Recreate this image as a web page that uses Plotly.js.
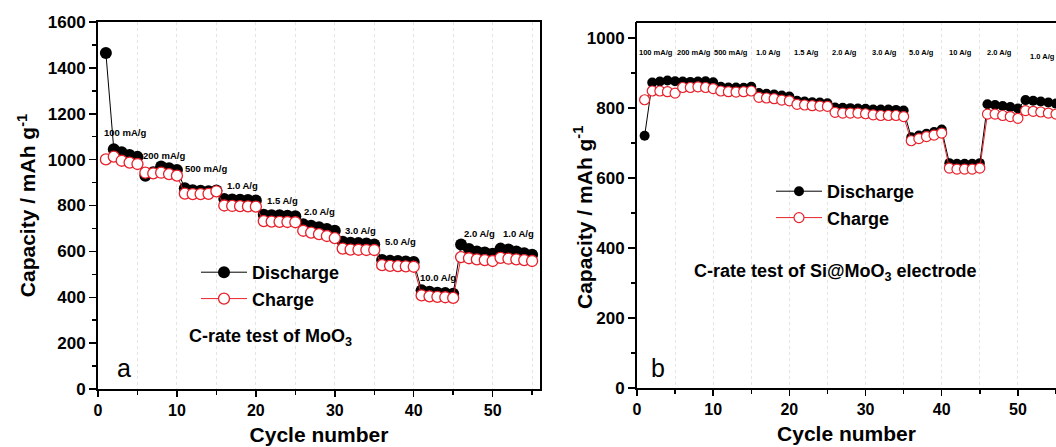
<!DOCTYPE html>
<html><head><meta charset="utf-8">
<script src="https://cdn.plot.ly/plotly-3.0.1.min.js"></script>
<style>html,body{margin:0;padding:0;background:#fff}#chart{width:1056px;height:447px}</style>
</head><body><div id="chart"></div>
<script>
const cycles = [1,2,3,4,5,6,7,8,9,10,11,12,13,14,15,16,17,18,19,20,21,22,23,24,25,26,27,28,29,30,31,32,33,34,35,36,37,38,39,40,41,42,43,44,45,46,47,48,49,50,51,52,53,54,55];

// Panel a: MoO3
const moDischarge = [1465, 1045,1032,1020,1012, 930,945,970,962,955, 875,866,864,862,865, 828,826,825,824,822,
  760,758,757,755,753, 718,712,705,698,690, 642,638,636,634,630, 562,559,558,556,554, 430,424,420,418,415,
  630,610,600,595,590, 612,608,600,592,585];
const moCharge = [1001, 1013,995,987,981, 943,940,943,937,930, 852,850,850,851,862, 800,798,797,796,795,
  732,730,729,728,727, 690,682,675,667,658, 612,608,607,606,606, 540,537,536,535,533, 408,404,402,400,397,
  575,570,565,562,558, 572,568,565,562,558];

// Panel b: Si@MoO3
const siDischarge = [720, 872,875,878,876, 875,874,875,876,873, 860,858,858,857,860, 842,840,838,835,832,
  820,818,816,815,813, 801,800,799,798,797, 795,795,795,794,792, 716,721,726,731,738, 642,640,640,640,642,
  810,808,805,802,798, 822,820,818,815,812];
const siCharge = [823, 848,848,846,842, 858,858,860,858,855, 848,846,845,846,848, 830,828,826,822,820,
  810,808,806,805,804, 787,785,785,785,783, 780,778,778,778,775, 706,712,718,722,728, 628,625,625,625,628,
  782,782,778,775,770, 792,790,788,785,782];

const rateLabelsA = ["100 mA/g","200 mA/g","500 mA/g","1.0 A/g","1.5 A/g","2.0 A/g","3.0 A/g","5.0 A/g","10.0 A/g","2.0 A/g","1.0 A/g"];
const rateLabelsB = ["100 mA/g","200 mA/g","500 mA/g","1.0 A/g","1.5 A/g","2.0 A/g","3.0 A/g","5.0 A/g","10 A/g","2.0 A/g","1.0 A/g"];

const FONT = "Liberation Sans, Arial, sans-serif";
const RED = "#e8202a";

// label anchors (data coordinates)
const posA = [[0.5,1120],[5.4,1020],[10.8,963],[16.1,889],[21.1,824],[25.8,776],[31.0,693],[36.1,641],[40.6,484],[46.1,680],[51.0,680]];
const posB = [[2.5,958],[7.5,958],[12.3,958],[17.3,958],[22.3,958],[27.3,958],[32.5,958],[37.3,958],[42.5,958],[47.6,958],[53.2,946]];

const traces = [
  {x: cycles, y: moDischarge, name: "Discharge", mode: "lines+markers", xaxis: "x", yaxis: "y", legend: "legend",
   line: {color: "#000", width: 1}, marker: {symbol: "circle", size: 12, color: "#000"}},
  {x: cycles, y: moCharge, name: "Charge", mode: "lines+markers", xaxis: "x", yaxis: "y", legend: "legend",
   line: {color: RED, width: 1}, marker: {symbol: "circle", size: 11, color: "#fff", line: {color: RED, width: 1.3}}},
  {x: cycles, y: siDischarge, name: "Discharge", mode: "lines+markers", xaxis: "x2", yaxis: "y2", legend: "legend2",
   line: {color: "#000", width: 1}, marker: {symbol: "circle", size: 10, color: "#000"}},
  {x: cycles, y: siCharge, name: "Charge", mode: "lines+markers", xaxis: "x2", yaxis: "y2", legend: "legend2",
   line: {color: RED, width: 1}, marker: {symbol: "circle", size: 10, color: "#fff", line: {color: RED, width: 1.2}}}
];

const titleFont = {family: FONT, size: 21, weight: 700, color: "#000"};
function xax(domain, range, mirror) {
  return {domain: domain, range: range, showline: true, linecolor: "#000", linewidth: 2, mirror: mirror,
    ticks: "outside", ticklen: 6, tickwidth: 1.5, tickcolor: "#000", dtick: 10, tick0: 0,
    tickfont: {family: FONT, size: 16, weight: 700, color: "#000"},
    showgrid: true, gridcolor: "#e4e4e4", griddash: "dot", gridwidth: 1, zeroline: false,
    minor: {dtick: 5, ticks: "outside", ticklen: 4, tickcolor: "#000", showgrid: true, gridcolor: "#e4e4e4", griddash: "dot"},
    title: {text: "Cycle number", font: titleFont, standoff: 9},
    automargin: false, fixedrange: true};
}
function yax(domain, range, anchor, mirror, standoff, title) {
  return {domain: domain, range: range, anchor: anchor, showline: true, linecolor: "#000", linewidth: 2, mirror: mirror,
    ticks: "outside", ticklen: 7, tickwidth: 1.5, tickcolor: "#000", dtick: 200, tick0: 0,
    tickfont: {family: FONT, size: 17, weight: 700, color: "#000"},
    showgrid: false, zeroline: false,
    minor: {dtick: 100, ticks: "outside", ticklen: 4, tickcolor: "#000", showgrid: false},
    title: {text: title, font: titleFont, standoff: standoff},
    automargin: false, fixedrange: true};
}

const annotations = [];
rateLabelsA.forEach((t, i) => annotations.push({xref: "x", yref: "y", x: posA[i][0], y: posA[i][1], text: t,
  showarrow: false, xanchor: "left", yanchor: "middle", font: {family: FONT, size: 9.5, weight: 700, color: "#000"}}));
rateLabelsB.forEach((t, i) => annotations.push({xref: "x2", yref: "y2", x: posB[i][0], y: posB[i][1], text: t,
  showarrow: false, xanchor: "center", yanchor: "middle", font: {family: FONT, size: 7.5, weight: 700, color: "#000"}}));
annotations.push({xref: "paper", yref: "paper", x: 270/1056, y: 1 - 337/447, text: "C-rate test of MoO<sub>3</sub>",
  showarrow: false, xanchor: "center", yanchor: "middle", font: {family: FONT, size: 18, weight: 700, color: "#000"}});
annotations.push({xref: "paper", yref: "paper", x: 835/1056, y: 1 - 272/447, text: "C-rate test of Si@MoO<sub>3</sub> electrode",
  showarrow: false, xanchor: "center", yanchor: "middle", font: {family: FONT, size: 18, weight: 700, color: "#000"}});
annotations.push({xref: "paper", yref: "paper", x: 124/1056, y: 1 - 368/447, text: "a",
  showarrow: false, xanchor: "center", yanchor: "middle", font: {family: FONT, size: 25, color: "#000"}});
annotations.push({xref: "paper", yref: "paper", x: 658/1056, y: 1 - 368/447, text: "b",
  showarrow: false, xanchor: "center", yanchor: "middle", font: {family: FONT, size: 25, color: "#000"}});
// y-axis title of panel b (placed as annotation to sit close to the tick labels, as in the reference)
annotations.push({xref: "paper", yref: "paper", x: 583/1056, y: 1 - 218/447, text: "Capacity / mAh g<sup>-1</sup>",
  textangle: -90, showarrow: false, xanchor: "center", yanchor: "middle", font: titleFont});

const legFont = {family: FONT, size: 18, weight: 700, color: "#000"};
const layout = {
  width: 1056, height: 447, margin: {l: 0, r: 0, t: 0, b: 0}, paper_bgcolor: "#fff", plot_bgcolor: "#fff",
  showlegend: true,
  xaxis: xax([98/1056, 540/1056], [0, 56], true),
  yaxis: yax([1 - 389/447, 1 - 22/447], [0, 1600], "x", true, 6, "Capacity / mAh g<sup>-1</sup>"),
  xaxis2: Object.assign(xax([637/1056, 1], [0, 55], false), {anchor: "y2"}),
  yaxis2: yax([1 - 388/447, 1 - 22/447], [0, 1045], "x2", false, 2, ""),
  legend: {x: 196/1056, y: 1 - 254/447, xanchor: "left", yanchor: "top", font: legFont, bgcolor: "rgba(0,0,0,0)",
    tracegroupgap: 0, itemwidth: 46},
  legend2: {x: 771/1056, y: 1 - 173/447, xanchor: "left", yanchor: "top", font: legFont, bgcolor: "rgba(0,0,0,0)",
    tracegroupgap: 0, itemwidth: 46},
  annotations: annotations,
  shapes: [{type: "line", xref: "paper", yref: "paper", x0: 636/1056, x1: 1, y0: 1 - 22/447, y1: 1 - 22/447,
    line: {color: "#000", width: 2}}]
};
Plotly.newPlot("chart", traces, layout, {displayModeBar: false, staticPlot: true});
</script></body></html>
